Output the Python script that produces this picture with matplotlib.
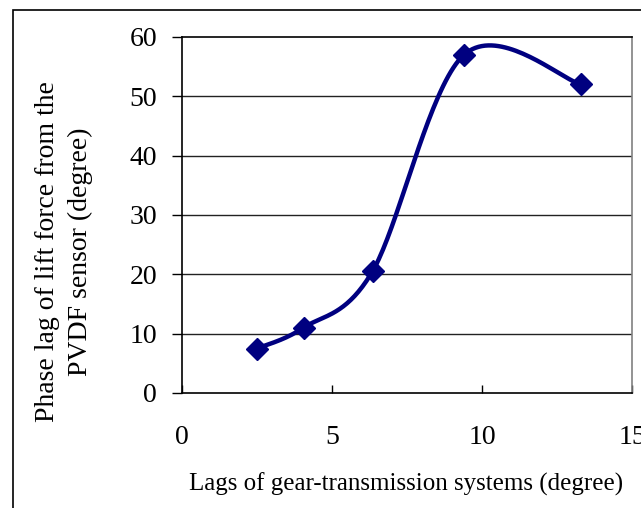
import numpy as np
import matplotlib.pyplot as plt
from matplotlib.patches import Rectangle

# data
lags = [2.5, 4.05, 6.35, 9.4, 13.3]
phase = [7.5, 11.0, 20.5, 57.0, 52.0]

x_ticks = [0, 5, 10, 15]
y_ticks = [0, 10, 20, 30, 40, 50, 60]

plt.rcParams['font.family'] = ['Liberation Serif', 'DejaVu Serif']


def smooth_curve(xs, ys, sx, sy, n=40):
    # Excel-style smoothed line: Bezier segments with tangents (P2-P0)/6,
    # computed in scaled coordinates
    P = np.column_stack([np.array(xs) / sx, np.array(ys) / sy])
    out = []
    for i in range(len(P) - 1):
        p0 = P[i - 1] if i > 0 else P[i]
        p1 = P[i]
        p2 = P[i + 1]
        p3 = P[i + 2] if i + 2 < len(P) else P[i + 1]
        c1 = p1 + (p2 - p0) / 6.0
        c2 = p2 - (p3 - p1) / 6.0
        t = np.linspace(0, 1, n)[:, None]
        seg = ((1 - t) ** 3) * p1 + 3 * ((1 - t) ** 2) * t * c1 + 3 * (1 - t) * t ** 2 * c2 + t ** 3 * p2
        out.append(seg)
    pts = np.vstack(out)
    return pts[:, 0] * sx, pts[:, 1] * sy


fig = plt.figure(figsize=(6.41, 5.08), dpi=100)
ax = fig.add_axes([182 / 641, 1 - 393 / 508, 450 / 641, 356 / 508])

# outer chart-area frame (runs off the right and bottom edges)
fig.patches.append(Rectangle((13 / 641, -0.1), 1.2, 1 - 10 / 508 + 0.1,
                             transform=fig.transFigure, fill=False,
                             edgecolor='black', linewidth=1.2))

cx, cy = smooth_curve(lags, phase, 15 * 1.26, 60)
ax.plot(cx, cy, color='#000080', linewidth=3.2, zorder=3)
ax.plot(lags, phase, linestyle='none', marker='D', markersize=11,
        color='#000080', zorder=4)

ax.set_xlim(0, 15)
ax.set_ylim(0, 60)
ax.set_xticks(x_ticks)
ax.set_yticks(y_ticks)
for v in y_ticks[1:-1]:
    ax.axhline(v, color='#222222', linewidth=1.0, zorder=1)

for s in ax.spines.values():
    s.set_linewidth(1.2)
ax.spines['right'].set_color('#808080')

ax.tick_params(axis='x', direction='in', length=6, width=1, labelsize=20, pad=23)
ax.tick_params(axis='y', direction='out', length=7, width=1, labelsize=20, pad=11)

fig.text(406 / 641, 1 - 484 / 508, 'Lags of gear-transmission systems (degree)',
         fontsize=18, ha='center', va='center')
fig.text(64 / 641, 1 - 252 / 508, 'Phase lag of lift force from the\nPVDF sensor (degree)',
         fontsize=20, rotation=90, ha='center', va='center',
         multialignment='center', linespacing=1.4)

fig.savefig('out.png', dpi=100)
